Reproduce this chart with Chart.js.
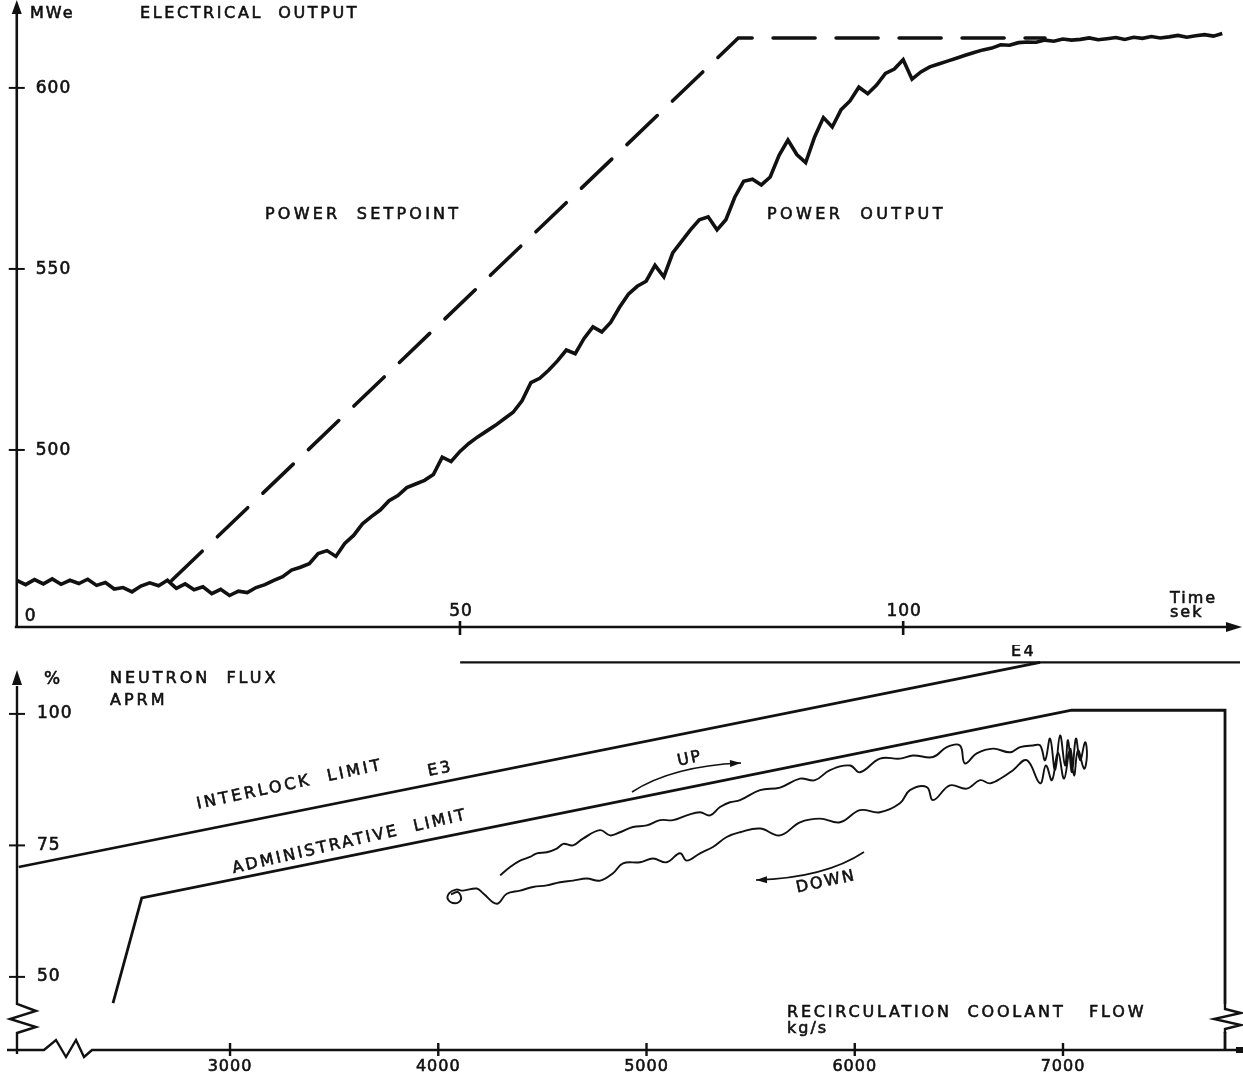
<!DOCTYPE html>
<html><head><meta charset="utf-8">
<script src="https://cdn.jsdelivr.net/npm/chart.js@4.4.1/dist/chart.umd.min.js"></script>
<style>
html,body{margin:0;padding:0;background:#fff;}
#wrap{position:relative;width:1243px;height:1078px;overflow:hidden;background:#fff;}
.box{position:absolute;left:0;width:1243px;}
</style></head><body>
<div id="wrap">
<div class="box" style="top:0;height:645px"><canvas id="c1" width="1243" height="645"></canvas></div>
<div class="box" style="top:645px;height:433px"><canvas id="c2" width="1243" height="433"></canvas></div>
</div>
<script>
// ---------- TOP PANEL DATA : electrical output vs time ----------
const timeSec = [0,1,2,3,4,5,6,7,8,9,10,11,12,13,14,15,16,17,18,19,20,21,22,23,24,25,26,27,28,29,
30,31,32,33,34,35,36,37,38,39,40,41,42,43,44,45,46,47,48,49,50,51,52,53,54,55,56,57,58,59,
60,61,62,63,64,65,66,67,68,69,70,71,72,73,74,75,76,77,78,79,80,81,82,83,84,85,86,87,88,89,
90,91,92,93,94,95,96,97,98,99,100,101,102,103,104,105,106,107,108,109,110,111,112,113,114,115,116,117,118,119,
120,121,122,123,124,125,126,127,128,129,130,131,132,133,134,135,136];
const powerOutputMWe = [464.0,462.8,464.2,463.0,464.4,462.9,464.0,463.1,464.3,462.6,463.4,461.6,462.0,460.8,462.4,463.3,462.5,464.0,461.8,463.0,
461.4,462.2,460.3,461.5,459.8,461.0,460.6,462.0,462.8,464.0,465.0,466.8,467.6,468.6,471.4,472.2,470.6,474.2,476.4,479.6,
481.6,483.4,486.0,487.4,489.6,490.6,491.6,493.2,498.0,496.8,499.6,501.8,503.6,505.2,506.8,508.6,510.4,513.6,518.6,519.8,
522.0,524.6,527.6,526.6,530.8,534.0,532.6,535.2,539.4,543.0,545.2,546.6,551.0,547.8,554.4,557.6,560.8,563.6,564.4,560.8,
563.6,569.8,574.2,574.8,573.2,575.4,581.4,585.6,581.6,579.4,586.4,591.8,589.2,594.0,596.4,600.2,598.4,600.8,604.0,605.2,
607.8,602.4,604.4,605.8,606.6,607.4,608.2,609.0,609.8,610.5,611.0,611.9,611.8,612.5,612.7,612.6,613.2,612.9,613.5,613.2,
613.4,613.8,613.3,613.6,613.9,613.4,614.0,613.7,614.2,613.8,614.1,614.5,614.0,614.4,614.7,614.3,615.0];
const setpointTime = [17.5, 81.4, 116];
const setpointMWe  = [464.0, 613.8, 613.8];
const mweTicks  = [500, 550, 600];
const timeTicks = [50, 100];

// ---------- BOTTOM PANEL DATA : neutron flux vs recirculation flow ----------
const interlockFlow = [1985, 6890];
const interlockFlux = [70.9, 109.8];
const e4Flow = [4105, 7850];
const e4Flux = [109.8, 109.8];
const adminFlow = [2438, 2576, 7042, 7778, 7778];
const adminFlux = [45.0, 65.0, 100.7, 100.7, 36.1];
const loopFlow = [4297,4345,4393,4441,4473,4521,4569,4601,4647,4695,4777,4825,4873,4935,5001,5065,5127,5193,5257,5305,
5353,5401,5449,5545,5641,5737,5809,5881,5977,6025,6121,6217,6280,6376,6442,6505,6529,6586,6664,6746,6794,6856,
6890,6914,6938,6962,6986,7010,7024,7043,7062,7082,7106,7115,7101,7072,7053,7034,7005,6976,6947,6918,6890,
6826,6760,6712,6650,6602,6538,6457,6376,6346,6265,6217,6121,6025,5929,5833,5737,5641,5545,5449,5385,5319,
5257,5193,5161,5097,5031,4969,4887,4839,4777,4713,4647,4585,4521,4455,4393,4329,4281,4215,4185,4119,
4085,4052,4047,4080,4109,4095,4061];
const loopFlux = [69.3,70.9,72.1,72.8,73.5,73.7,74.4,75.3,75.0,76.3,77.9,76.9,77.5,78.5,78.8,79.8,79.8,80.7,81.3,80.7,
82.3,83.2,83.6,85.5,86.0,87.7,87.4,89.3,90.2,88.9,91.5,91.5,92.1,91.8,93.7,94.0,90.6,92.5,93.4,92.7,93.7,94.0,
94.0,91.2,95.3,89.3,95.9,90.2,95.0,88.9,95.3,91.2,94.6,92.1,89.6,93.1,88.3,93.4,87.7,92.7,87.4,90.2,86.8,
91.2,89.3,88.0,86.8,87.4,85.8,86.4,83.6,86.1,85.5,83.0,81.3,81.7,79.4,80.1,79.4,76.9,78.2,77.5,76.6,74.7,
73.5,72.1,73.5,71.8,72.5,71.8,71.6,69.7,68.3,68.7,68.3,68.0,67.4,67.1,66.4,65.8,63.9,65.9,66.8,66.4,
66.6,65.9,64.7,64.0,64.7,66.1,65.7];
const fluxTicks = [50, 75, 100];
const flowTicks = [3000, 4000, 5000, 6000, 7000];

// ---------- helpers ----------
const FONT = '"DejaVu Sans", sans-serif';
const INK = '#111';
const pts = (xs, ys) => xs.map((v, i) => ({x: v, y: ys[i]}));
function label(ctx, s, x, y, o = {}) {
  ctx.save();
  ctx.font = (o.size || 16) + 'px ' + FONT;
  ctx.letterSpacing = (o.ls != null ? o.ls : 2) + 'px';
  ctx.fillStyle = INK;
  ctx.strokeStyle = INK;
  ctx.lineWidth = 0.6;
  ctx.textAlign = o.align || 'left';
  ctx.textBaseline = 'middle';
  ctx.translate(x, y);
  if (o.rot) ctx.rotate(o.rot * Math.PI / 180);
  ctx.fillText(s, 0, 0);
  ctx.strokeText(s, 0, 0);
  ctx.restore();
}
function line(ctx, p, w) {
  ctx.beginPath(); ctx.lineWidth = w || 2;
  ctx.moveTo(p[0][0], p[0][1]);
  for (let i = 1; i < p.length; i++) ctx.lineTo(p[i][0], p[i][1]);
  ctx.stroke();
}
function tri(ctx, p) {
  ctx.beginPath(); ctx.moveTo(p[0][0], p[0][1]); ctx.lineTo(p[1][0], p[1][1]); ctx.lineTo(p[2][0], p[2][1]); ctx.closePath(); ctx.fill();
}
function curvedArrow(ctx, a, c, b) {
  ctx.beginPath(); ctx.lineWidth = 1.6;
  ctx.moveTo(a[0], a[1]); ctx.quadraticCurveTo(c[0], c[1], b[0], b[1]); ctx.stroke();
  const ang = Math.atan2(b[1] - c[1], b[0] - c[0]);
  const L = 11, W = 3.5;
  const bx = b[0] - L * Math.cos(ang), by = b[1] - L * Math.sin(ang);
  tri(ctx, [[b[0], b[1]], [bx - W * Math.sin(ang), by + W * Math.cos(ang)], [bx + W * Math.sin(ang), by - W * Math.cos(ang)]]);
}

// ---------- top chart ----------
const topDecor = {
  id: 'topDecor',
  afterDraw(chart) {
    const {ctx, chartArea: a, scales: {x, y}} = chart;
    ctx.save();
    ctx.strokeStyle = INK; ctx.fillStyle = INK; ctx.lineCap = 'butt';
    const x0 = x.getPixelForValue(0), yb = a.bottom;
    line(ctx, [[x0, yb], [x0, 10]], 2.6);
    tri(ctx, [[x0, 0], [x0 - 5, 14], [x0 + 5, 14]]);
    line(ctx, [[x0 - 2, yb], [1228, yb]], 2.4);
    tri(ctx, [[1242, yb], [1226, yb - 5], [1226, yb + 5]]);
    mweTicks.forEach(v => {
      const py = y.getPixelForValue(v);
      line(ctx, [[x0 - 8, py], [x0 + 8, py]], 2);
      label(ctx, String(v), x0 + 19, py + 1, {ls: 1, size: 17});
    });
    timeTicks.forEach(v => {
      const px = x.getPixelForValue(v);
      line(ctx, [[px, yb - 6], [px, yb + 8]], 2.6);
      label(ctx, String(v), px + 1, yb - 15, {ls: 1, size: 17, align: 'center'});
    });
    label(ctx, '0', x0 + 8, yb - 10, {ls: 1, size: 17});
    label(ctx, 'MWe', 30, 14, {ls: 2, size: 16});
    label(ctx, 'ELECTRICAL  OUTPUT', 140, 14, {ls: 2.6, size: 16});
    label(ctx, 'POWER  SETPOINT', 265, 215, {ls: 3.2, size: 16});
    label(ctx, 'POWER  OUTPUT', 767, 215, {ls: 3.4, size: 16});
    label(ctx, 'Time', 1170, 599, {ls: 2, size: 16});
    label(ctx, 'sek', 1170, 613, {ls: 2, size: 16});
    ctx.restore();
  }
};

new Chart(document.getElementById('c1'), {
  type: 'line',
  data: {
    datasets: [
      {label: 'POWER SETPOINT', data: pts(setpointTime, setpointMWe), borderColor: INK, borderWidth: 3.6,
       borderDash: [42, 21], pointRadius: 0, tension: 0, borderCapStyle: 'round'},
      {label: 'POWER OUTPUT', data: pts(timeSec, powerOutputMWe), borderColor: INK, borderWidth: 3.6,
       pointRadius: 0, tension: 0}
    ]
  },
  options: {
    responsive: false, animation: false, devicePixelRatio: 1,
    layout: {padding: {left: 15, right: 3, top: 5, bottom: 18}},
    plugins: {legend: {display: false}, tooltip: {enabled: false}},
    scales: {
      x: {type: 'linear', display: false, min: -0.2, max: 138},
      y: {type: 'linear', display: false, min: 451.1, max: 622.9}
    }
  },
  plugins: [topDecor]
});

// ---------- bottom chart ----------
const OFF = 645; // page y offset of the lower canvas
const botDecor = {
  id: 'botDecor',
  afterDraw(chart) {
    const {ctx, chartArea: a, scales: {x, y}} = chart;
    ctx.save();
    ctx.strokeStyle = INK; ctx.fillStyle = INK;
    const x0 = a.left, yb = a.bottom;
    // y axis with break
    line(ctx, [[x0, yb + 4], [x0, 1033 - OFF], [x0 + 19, 1027 - OFF], [x0 - 7, 1019 - OFF], [x0 + 19, 1011 - OFF], [x0, 1004 - OFF], [x0, 686 - OFF]], 2.4);
    tri(ctx, [[x0, 670 - OFF], [x0 - 5, 685 - OFF], [x0 + 5, 685 - OFF]]);
    // x axis with break
    line(ctx, [[x0 - 10, yb], [44, yb], [56, yb - 10], [66, yb + 7], [76, yb - 10], [84, yb + 7], [92, yb], [1238, yb]], 2.4);
    ctx.fillRect(1236, yb - 3, 7, 6);
    // break in the right-hand administrative limit line
    const xr = x.getPixelForValue(adminFlow[3]);
    ctx.fillStyle = '#fff'; ctx.fillRect(xr - 3, 1004 - OFF, 6, 28); ctx.fillStyle = INK;
    line(ctx, [[xr, 1004 - OFF], [xr, 1009 - OFF], [xr + 16, 1013 - OFF], [xr - 11, 1019 - OFF], [xr + 16, 1025 - OFF], [xr, 1029 - OFF], [xr, 1033 - OFF]], 2.4);
    fluxTicks.forEach(v => {
      const py = y.getPixelForValue(v);
      line(ctx, [[x0 - 8, py], [x0 + 8, py]], 2);
      label(ctx, String(v), x0 + 20, py, {ls: 1, size: 17});
    });
    flowTicks.forEach(v => {
      const px = x.getPixelForValue(v);
      line(ctx, [[px, yb - 7], [px, yb + 6]], 2.4);
      label(ctx, String(v), px, yb + 17, {ls: 1, size: 16, align: 'center'});
    });
    label(ctx, '%', 44, 680 - OFF, {ls: 1, size: 17});
    label(ctx, 'NEUTRON  FLUX', 110, 679 - OFF, {ls: 3, size: 16});
    label(ctx, 'APRM', 110, 701 - OFF, {ls: 3, size: 16});
    label(ctx, 'E4', 1011, 652 - OFF, {ls: 2.5, size: 16});
    label(ctx, 'E3', 428, 772 - OFF, {ls: 2.5, size: 16, rot: -12});
    label(ctx, 'INTERLOCK  LIMIT', 290, 785 - OFF, {ls: 3, size: 16, rot: -12, align: 'center'});
    label(ctx, 'ADMINISTRATIVE  LIMIT', 350, 842 - OFF, {ls: 2.6, size: 16, rot: -13, align: 'center'});
    label(ctx, 'UP', 690, 759 - OFF, {ls: 2, size: 16, rot: -12, align: 'center'});
    label(ctx, 'DOWN', 826, 882 - OFF, {ls: 2, size: 16, rot: -12, align: 'center'});
    label(ctx, 'RECIRCULATION  COOLANT   FLOW', 787, 1013 - OFF, {ls: 2.8, size: 16});
    label(ctx, 'kg/s', 787, 1029 - OFF, {ls: 2, size: 16});
    curvedArrow(ctx, [632, 792 - OFF], [672, 766 - OFF], [741, 763 - OFF]);
    curvedArrow(ctx, [864, 852 - OFF], [825, 878 - OFF], [756, 880 - OFF]);
    ctx.restore();
  }
};

new Chart(document.getElementById('c2'), {
  type: 'scatter',
  data: {
    datasets: [
      {label: 'INTERLOCK LIMIT', data: pts(interlockFlow, interlockFlux), showLine: true, borderColor: INK, borderWidth: 2.6, pointRadius: 0},
      {label: 'E4', data: pts(e4Flow, e4Flux), showLine: true, borderColor: INK, borderWidth: 2.4, pointRadius: 0},
      {label: 'ADMINISTRATIVE LIMIT', data: pts(adminFlow, adminFlux), showLine: true, borderColor: INK, borderWidth: 2.8, pointRadius: 0},
      {label: 'APRM', data: pts(loopFlow, loopFlux), showLine: true, borderColor: INK, borderWidth: 1.9, pointRadius: 0, tension: 0.4}
    ]
  },
  options: {
    responsive: false, animation: false, devicePixelRatio: 1,
    layout: {padding: {left: 17, right: 3, top: 10, bottom: 28}},
    plugins: {legend: {display: false}, tooltip: {enabled: false}},
    scales: {
      x: {type: 'linear', display: false, min: 1977, max: 7850},
      y: {type: 'linear', display: false, min: 36.1, max: 111.2}
    }
  },
  plugins: [botDecor]
});
</script>
</body></html>
